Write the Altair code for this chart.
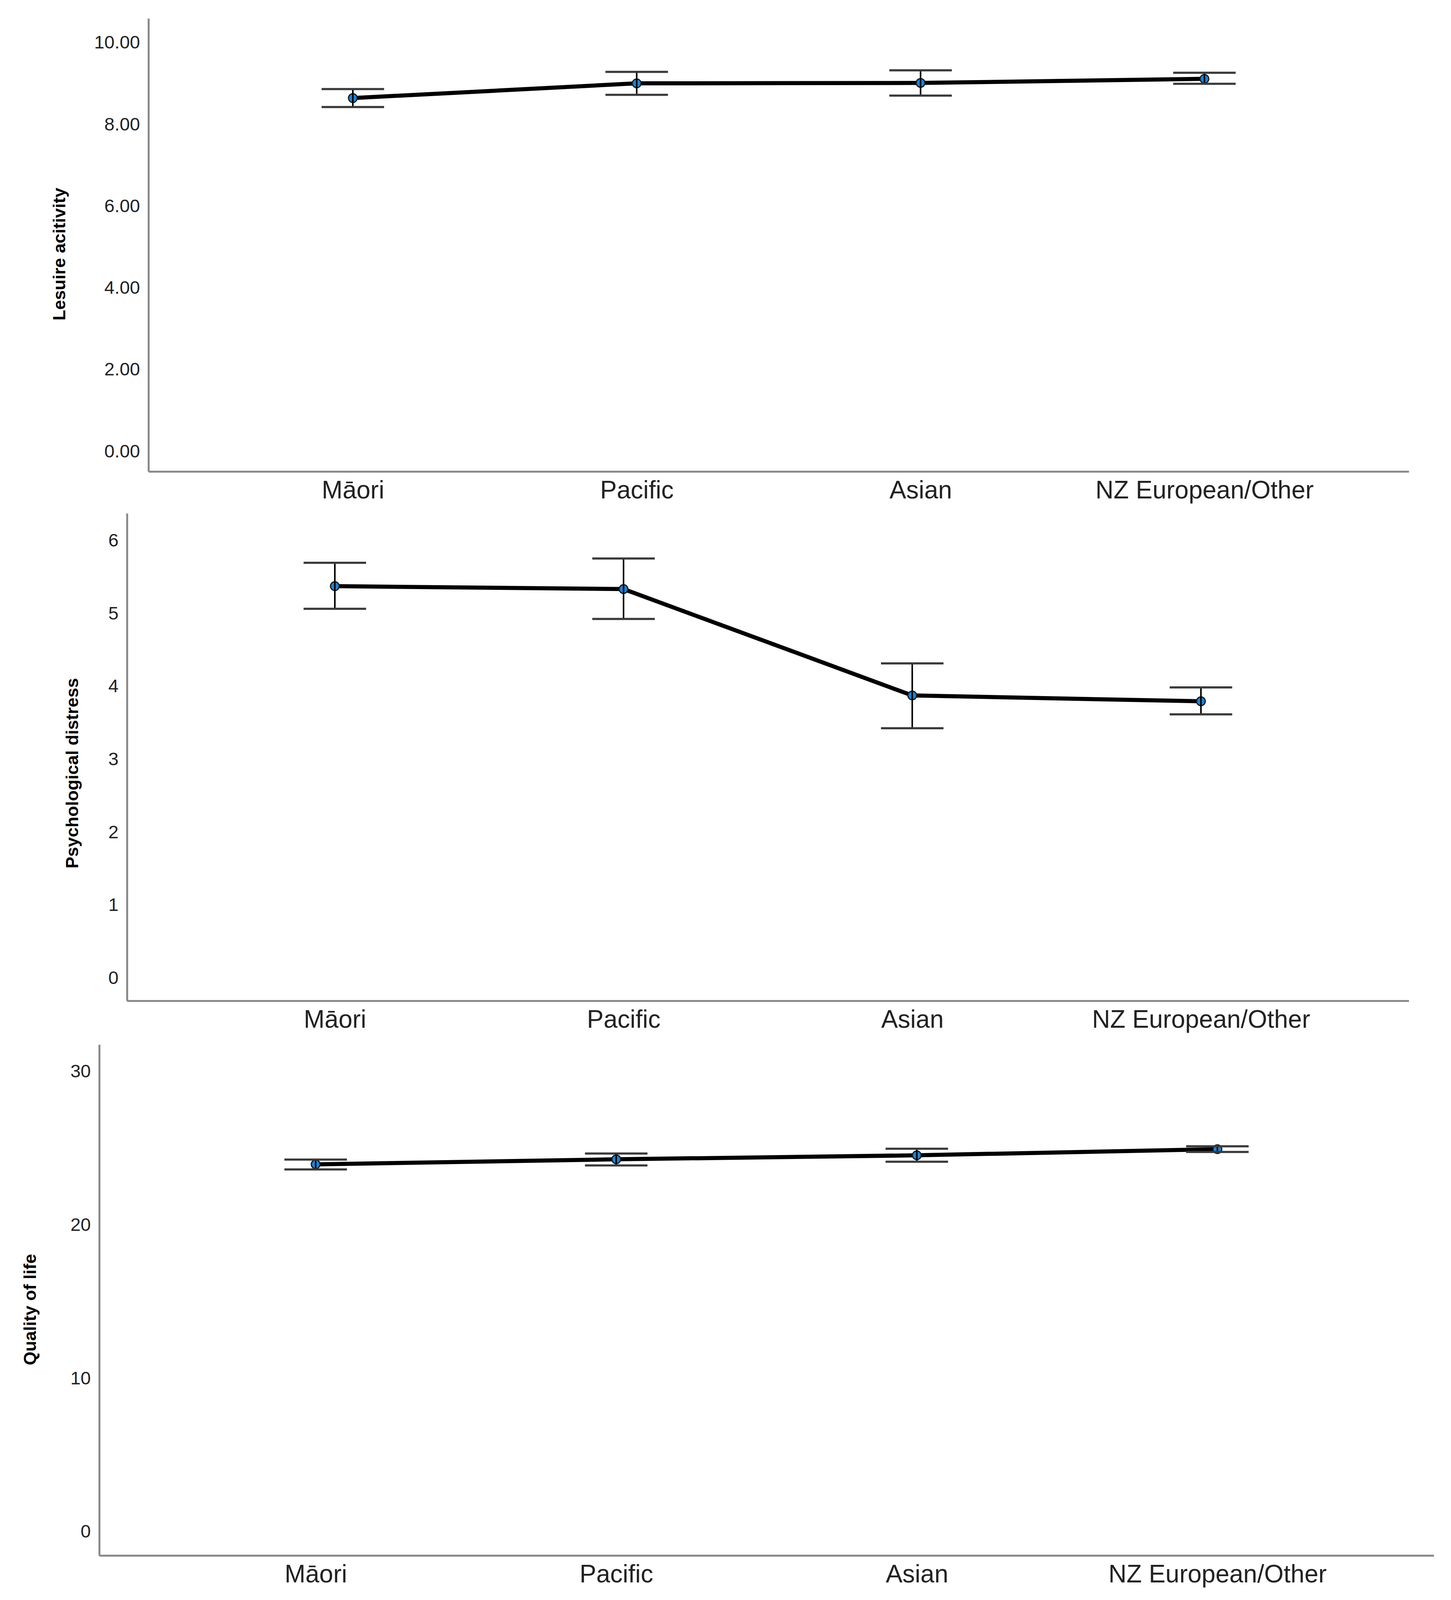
import altair as alt
import pandas as pd

categories = ["Māori", "Pacific", "Asian", "NZ European/Other"]

leisure_mean = [8.65, 9.01, 9.02, 9.12]
leisure_lo = [8.43, 8.73, 8.71, 9.00]
leisure_hi = [8.87, 9.29, 9.33, 9.27]

distress_mean = [5.38, 5.34, 3.88, 3.80]
distress_lo = [5.07, 4.93, 3.43, 3.62]
distress_hi = [5.70, 5.76, 4.32, 3.99]

qol_mean = [23.96, 24.29, 24.55, 24.95]
qol_lo = [23.63, 23.89, 24.13, 24.77]
qol_hi = [24.27, 24.67, 24.98, 25.14]

leisure_ticks = [0, 2, 4, 6, 8, 10]
distress_ticks = [0, 1, 2, 3, 4, 5, 6]
qol_ticks = [0, 10, 20, 30]

FONT = "Liberation Sans"
BLUE = "#1d83d6"


def make_panel(mean, lo, hi, title, ticks, fmt, domain, width, height, tx, ty):
    df = pd.DataFrame({"group": categories, "mean": mean, "lo": lo, "hi": hi})
    xenc = alt.X(
        "group:N",
        sort=categories,
        scale=alt.Scale(type="point", padding=0.72, domain=categories),
        axis=alt.Axis(
            title=None,
            labelAngle=0,
            labelFont=FONT,
            labelFontSize=64,
            labelColor="#222222",
            labelPadding=17,
            labelLimit=2000,
            ticks=False,
            grid=False,
            domainColor="#8a8a8a",
            domainWidth=5,
        ),
    )
    yscale = alt.Scale(domain=domain, nice=False, zero=False)
    yaxis = alt.Axis(
        title=title,
        values=ticks,
        format=fmt,
        labelFont=FONT,
        labelFontSize=47,
        labelColor="#222222",
        labelPadding=22,
        labelLimit=2000,
        ticks=False,
        grid=False,
        domainColor="#8a8a8a",
        domainWidth=5,
        titleFont=FONT,
        titleFontSize=45,
        titleFontWeight="bold",
        titleColor="#000000",
        titleX=tx,
        titleY=ty,
        titleAngle=270,
        titleAlign="center",
        titleBaseline="alphabetic",
        titleLimit=3000,
    )
    base = alt.Chart(df)
    line = base.mark_line(color="#000000", strokeWidth=10.5).encode(
        x=xenc, y=alt.Y("mean:Q", scale=yscale, axis=yaxis)
    )
    pts = base.mark_circle(
        size=500, color=BLUE, opacity=1, stroke="#1a1a1a", strokeWidth=3
    ).encode(x=xenc, y=alt.Y("mean:Q", scale=yscale))
    stem = base.mark_rule(color="#000000", strokeWidth=4).encode(
        x=xenc, y=alt.Y("lo:Q", scale=yscale), y2="hi:Q"
    )
    cap_lo = base.mark_tick(color="#3a3a3a", size=160, thickness=5.5, opacity=1).encode(
        x=xenc, y=alt.Y("lo:Q", scale=yscale)
    )
    cap_hi = base.mark_tick(color="#3a3a3a", size=160, thickness=5.5, opacity=1).encode(
        x=xenc, y=alt.Y("hi:Q", scale=yscale)
    )
    return alt.layer(line, pts, stem, cap_lo, cap_hi).properties(
        width=width, height=height
    )


def spacer(w, h):
    return (
        alt.Chart(pd.DataFrame({"a": [0]}))
        .mark_point(opacity=0)
        .encode(x=alt.value(0), y=alt.value(0))
        .properties(width=w, height=h)
    )


p1 = make_panel(leisure_mean, leisure_lo, leisure_hi, "Lesuire acitivity",
                leisure_ticks, ".2f", [-0.486, 10.6], 3226, 1160, -214, 603)
p2 = make_panel(distress_mean, distress_lo, distress_hi, "Psychological distress",
                distress_ticks, "d", [-0.31, 6.38], 3281, 1248, -126, 665)
p3 = make_panel(qol_mean, qol_lo, qol_hi, "Quality of life",
                qol_ticks, "d", [-1.53, 31.77], 3416, 1308, -163, 678)

row1 = alt.hconcat(spacer(369, 1264), p1, spacing=0, bounds="flush")
row2 = alt.hconcat(spacer(314, 1357), p2, spacing=0, bounds="flush")
row3 = alt.hconcat(spacer(243, 1395), p3, spacing=0, bounds="flush")

chart = (
    alt.vconcat(row1, row2, row3, spacing=0)
    .properties(padding={"left": 0, "top": 36, "right": 20, "bottom": 8})
    .configure_view(strokeWidth=0, stroke="transparent", strokeOpacity=0)
    .configure(background="white", style={"cell": {"strokeOpacity": 0, "strokeWidth": 0}})
)

chart.save("out.html", embed_options={"renderer": "svg", "actions": False})
